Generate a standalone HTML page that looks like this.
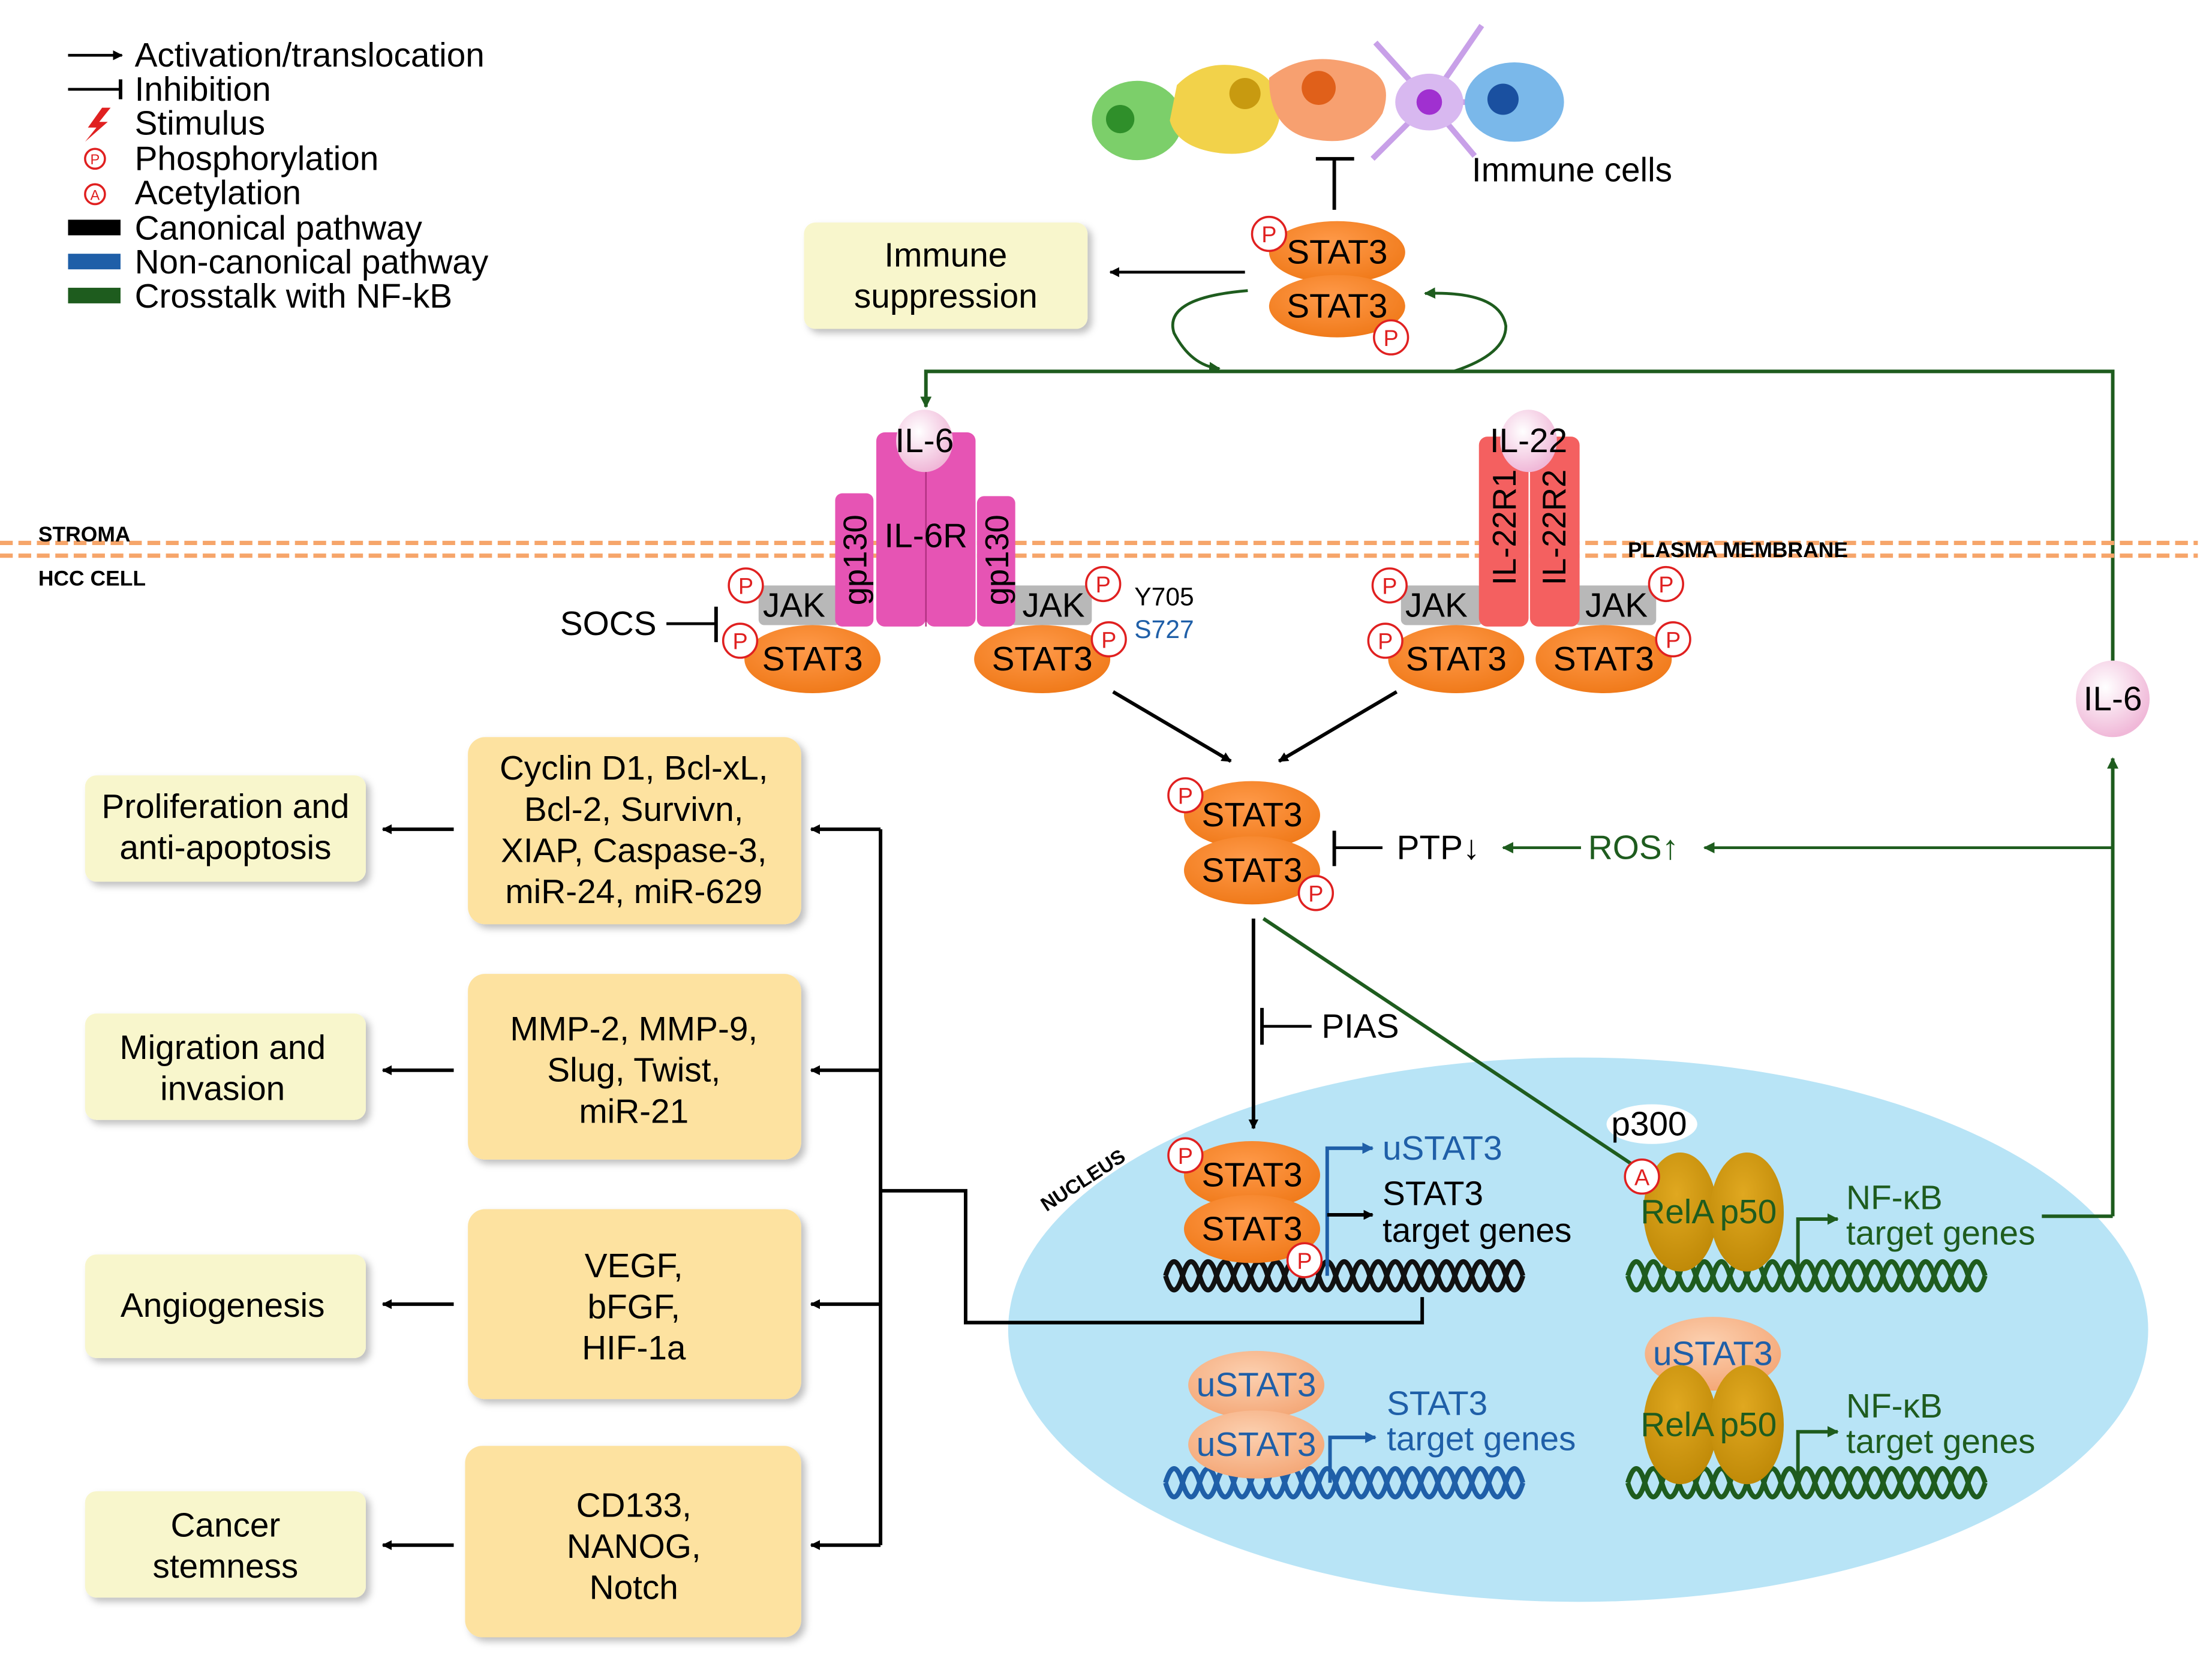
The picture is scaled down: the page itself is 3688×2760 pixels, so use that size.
<!DOCTYPE html>
<html><head><meta charset="utf-8"><style>
html,body{margin:0;padding:0;background:#fff;}
svg{display:block;}
text{font-family:"Liberation Sans",Arial,sans-serif;}
</style></head><body>
<svg width="3688" height="2760" viewBox="0 0 1560 1167.5" preserveAspectRatio="none" xmlns="http://www.w3.org/2000/svg">
<defs>
<marker id="ab" viewBox="0 0 10 10" refX="9" refY="5" markerWidth="7" markerHeight="7" orient="auto-start-reverse" markerUnits="userSpaceOnUse"><path d="M0,0L10,5L0,10z" fill="#000"/></marker>
<marker id="ag" viewBox="0 0 10 10" refX="9" refY="5" markerWidth="8" markerHeight="8" orient="auto-start-reverse" markerUnits="userSpaceOnUse"><path d="M0,0L10,5L0,10z" fill="#1e5c1e"/></marker>
<marker id="abl" viewBox="0 0 10 10" refX="9" refY="5" markerWidth="8" markerHeight="8" orient="auto" markerUnits="userSpaceOnUse"><path d="M0,0L10,5L0,10z" fill="#1f5fa8"/></marker>
<radialGradient id="og" cx="45%" cy="35%" r="65%"><stop offset="0" stop-color="#ff9a4a"/><stop offset="1" stop-color="#f07a1a"/></radialGradient>
<radialGradient id="ug" cx="45%" cy="35%" r="65%"><stop offset="0" stop-color="#fcd0b0"/><stop offset="1" stop-color="#f4a878"/></radialGradient>
<radialGradient id="gg" cx="45%" cy="35%" r="65%"><stop offset="0" stop-color="#e0a820"/><stop offset="1" stop-color="#c08a08"/></radialGradient>
<radialGradient id="pk" cx="40%" cy="35%" r="65%"><stop offset="0" stop-color="#fff"/><stop offset="1" stop-color="#f0b8d8"/></radialGradient>
<filter id="sh" x="-10%" y="-10%" width="130%" height="130%"><feDropShadow dx="3" dy="3" stdDeviation="2.5" flood-color="#000" flood-opacity="0.25"/></filter>
</defs>

<!-- Legend -->
<g font-size="24" fill="#000">
<line x1="48" y1="39" x2="86" y2="39" stroke="#000" stroke-width="2" marker-end="url(#ab)"/>
<text x="95" y="47">Activation/translocation</text>
<line x1="48" y1="63" x2="84" y2="63" stroke="#000" stroke-width="2"/><line x1="85" y1="56" x2="85" y2="70" stroke="#000" stroke-width="2.5"/>
<text x="95" y="71">Inhibition</text>
<path d="M72,76 L62,90 L68,90 L60,100 L76,86 L70,86 L78,76z" fill="#e02020"/>
<text x="95" y="95">Stimulus</text>
<circle cx="67" cy="112" r="7" fill="#fff" stroke="#e02020" stroke-width="1.5"/><text x="67" y="116" font-size="10" fill="#e02020" text-anchor="middle">P</text>
<text x="95" y="120">Phosphorylation</text>
<circle cx="67" cy="137" r="7" fill="#fff" stroke="#e02020" stroke-width="1.5"/><text x="67" y="141" font-size="10" fill="#e02020" text-anchor="middle">A</text>
<text x="95" y="144">Acetylation</text>
<rect x="48" y="155" width="37" height="11" fill="#000"/><text x="95" y="169">Canonical pathway</text>
<rect x="48" y="179" width="37" height="11" fill="#1f5fa8"/><text x="95" y="193">Non-canonical pathway</text>
<rect x="48" y="203" width="37" height="11" fill="#1e5c1e"/><text x="95" y="217">Crosstalk with NF-kB</text>
</g>

<!-- Immune cells -->
<ellipse cx="802" cy="85" rx="32" ry="28" fill="#7ccf6a"/><circle cx="790" cy="84" r="10" fill="#2f8f2a"/>
<path d="M830,60 Q850,40 880,48 Q905,55 902,85 Q895,112 860,108 Q830,104 825,85z" fill="#f2d24a"/><circle cx="878" cy="66" r="11" fill="#c89a10"/>
<path d="M895,55 Q920,35 955,45 Q985,52 975,80 Q960,105 925,98 Q895,92 895,55z" fill="#f7a070"/><circle cx="930" cy="62" r="12" fill="#e0601a"/>
<g stroke="#c8a0e8" stroke-width="4"><line x1="1008" y1="72" x2="1045" y2="18"/><line x1="1008" y1="72" x2="970" y2="30"/><line x1="1008" y1="72" x2="1040" y2="110"/><line x1="1008" y1="72" x2="968" y2="112"/><line x1="1008" y1="72" x2="1035" y2="72"/></g>
<ellipse cx="1008" cy="72" rx="24" ry="20" fill="#d8b8f0"/><circle cx="1008" cy="72" r="9" fill="#a030d0"/>
<ellipse cx="1068" cy="72" rx="35" ry="28" fill="#7ab8ea"/><circle cx="1060" cy="70" r="11" fill="#1a50a0"/>
<text x="1038" y="128" font-size="24">Immune cells</text>
<line x1="941" y1="148" x2="941" y2="112" stroke="#000" stroke-width="2.5"/><line x1="928" y1="112" x2="955" y2="112" stroke="#000" stroke-width="2.5"/>

<!-- Immune suppression -->
<rect x="567" y="157" width="200" height="75" rx="8" fill="#f8f6cc" filter="url(#sh)"/>
<text x="667" y="188" font-size="24" text-anchor="middle">Immune</text><text x="667" y="217" font-size="24" text-anchor="middle">suppression</text>
<line x1="878" y1="192" x2="783" y2="192" stroke="#000" stroke-width="2" marker-end="url(#ab)"/>

<!-- green loops & lines -->
<path d="M880,205 Q820,210 828,235 Q840,258 860,260" fill="none" stroke="#1e5c1e" stroke-width="2" marker-end="url(#ag)"/>
<path d="M1025,262 Q1062,250 1062,230 Q1058,205 1005,207" fill="none" stroke="#1e5c1e" stroke-width="2" marker-end="url(#ag)"/>
<polyline points="1490,490 1490,262 653,262 653,287" fill="none" stroke="#1e5c1e" stroke-width="2.5" marker-end="url(#ag)"/>

<!-- top dimer -->
<ellipse cx="943" cy="178" rx="48" ry="22" fill="url(#og)"/><ellipse cx="943" cy="216" rx="48" ry="22" fill="url(#og)"/>
<text x="943" y="186" font-size="24" text-anchor="middle">STAT3</text><text x="943" y="224" font-size="24" text-anchor="middle">STAT3</text>
<g font-size="16" fill="#e02020" text-anchor="middle">
<circle cx="895" cy="165" r="12" fill="#fff" stroke="#e02020" stroke-width="1.5"/><text x="895" y="171">P</text>
<circle cx="981" cy="238" r="12" fill="#fff" stroke="#e02020" stroke-width="1.5"/><text x="981" y="244">P</text>
</g>

<!-- Membrane -->
<line x1="0" y1="383" x2="1550" y2="383" stroke="#f6a56a" stroke-width="3" stroke-dasharray="9,4"/>
<line x1="0" y1="392" x2="1550" y2="392" stroke="#f6a56a" stroke-width="3" stroke-dasharray="9,4"/>
<text x="27" y="382" font-size="15" font-weight="bold">STROMA</text>
<text x="27" y="413" font-size="15" font-weight="bold">HCC CELL</text>
<text x="1148" y="393" font-size="15" font-weight="bold">PLASMA MEMBRANE</text>

<!-- IL-6 receptor complex -->
<rect x="535" y="413" width="58" height="28" rx="4" fill="#b8b8b8"/><rect x="712" y="413" width="58" height="28" rx="4" fill="#b8b8b8"/>
<text x="560" y="435" font-size="24" text-anchor="middle">JAK</text><text x="743" y="435" font-size="24" text-anchor="middle">JAK</text>
<rect x="589" y="348" width="27" height="94" rx="5" fill="#e654b4"/>
<rect x="689" y="350" width="27" height="92" rx="5" fill="#e654b4"/>
<rect x="618" y="305" width="35" height="137" rx="6" fill="#e654b4"/>
<rect x="653" y="305" width="35" height="137" rx="6" fill="#e654b4"/>
<line x1="653" y1="330" x2="653" y2="442" stroke="#b03080" stroke-width="1"/>
<text transform="translate(611,395) rotate(-90)" font-size="23" text-anchor="middle">gp130</text>
<text transform="translate(711,395) rotate(-90)" font-size="23" text-anchor="middle">gp130</text>
<text x="653" y="386" font-size="24" text-anchor="middle">IL-6R</text>
<ellipse cx="652" cy="311" rx="20" ry="22" fill="url(#pk)"/><text x="652" y="319" font-size="24" text-anchor="middle">IL-6</text>
<ellipse cx="573" cy="465" rx="48" ry="24" fill="url(#og)"/><ellipse cx="735" cy="465" rx="48" ry="24" fill="url(#og)"/>
<text x="573" y="473" font-size="24" text-anchor="middle">STAT3</text><text x="735" y="473" font-size="24" text-anchor="middle">STAT3</text>
<text x="800" y="427" font-size="18">Y705</text><text x="800" y="450" font-size="18" fill="#1f5fa8">S727</text>
<text x="395" y="448" font-size="24">SOCS</text>
<line x1="470" y1="440" x2="504" y2="440" stroke="#000" stroke-width="2"/><line x1="505" y1="428" x2="505" y2="453" stroke="#000" stroke-width="2.5"/>

<!-- IL-22 complex -->
<rect x="988" y="413" width="58" height="28" rx="4" fill="#b8b8b8"/><rect x="1110" y="413" width="58" height="28" rx="4" fill="#b8b8b8"/>
<text x="1013" y="435" font-size="24" text-anchor="middle">JAK</text><text x="1140" y="435" font-size="24" text-anchor="middle">JAK</text>
<rect x="1043" y="308" width="35" height="134" rx="6" fill="#f46060"/><rect x="1079" y="308" width="35" height="134" rx="6" fill="#f46060"/>
<text transform="translate(1069,372) rotate(-90)" font-size="23" text-anchor="middle">IL-22R1</text>
<text transform="translate(1104,372) rotate(-90)" font-size="23" text-anchor="middle">IL-22R2</text>
<ellipse cx="1078" cy="311" rx="20" ry="22" fill="url(#pk)"/><text x="1078" y="319" font-size="24" text-anchor="middle">IL-22</text>
<ellipse cx="1027" cy="465" rx="48" ry="24" fill="url(#og)"/><ellipse cx="1131" cy="465" rx="48" ry="24" fill="url(#og)"/>
<text x="1027" y="473" font-size="24" text-anchor="middle">STAT3</text><text x="1131" y="473" font-size="24" text-anchor="middle">STAT3</text>

<g font-size="16" fill="#e02020" text-anchor="middle" stroke-width="1.5">
<circle cx="526" cy="413" r="12" fill="#fff" stroke="#e02020"/><text x="526" y="419">P</text>
<circle cx="522" cy="452" r="12" fill="#fff" stroke="#e02020"/><text x="522" y="458">P</text>
<circle cx="778" cy="412" r="12" fill="#fff" stroke="#e02020"/><text x="778" y="418">P</text>
<circle cx="782" cy="451" r="12" fill="#fff" stroke="#e02020"/><text x="782" y="457">P</text>
<circle cx="980" cy="413" r="12" fill="#fff" stroke="#e02020"/><text x="980" y="419">P</text>
<circle cx="977" cy="452" r="12" fill="#fff" stroke="#e02020"/><text x="977" y="458">P</text>
<circle cx="1175" cy="412" r="12" fill="#fff" stroke="#e02020"/><text x="1175" y="418">P</text>
<circle cx="1180" cy="451" r="12" fill="#fff" stroke="#e02020"/><text x="1180" y="457">P</text>
</g>

<line x1="785" y1="488" x2="868" y2="537" stroke="#000" stroke-width="2.5" marker-end="url(#ab)"/>
<line x1="985" y1="488" x2="902" y2="537" stroke="#000" stroke-width="2.5" marker-end="url(#ab)"/>

<!-- IL-6 right -->
<line x1="1490" y1="858" x2="1490" y2="535" stroke="#1e5c1e" stroke-width="2.5" marker-end="url(#ag)"/>
<ellipse cx="1490" cy="493" rx="26" ry="27" fill="url(#pk)"/><text x="1490" y="501" font-size="24" text-anchor="middle">IL-6</text>

<!-- middle dimer -->
<ellipse cx="883" cy="575" rx="48" ry="24" fill="url(#og)"/><ellipse cx="883" cy="614" rx="48" ry="24" fill="url(#og)"/>
<text x="883" y="583" font-size="24" text-anchor="middle">STAT3</text><text x="883" y="622" font-size="24" text-anchor="middle">STAT3</text>
<g font-size="16" fill="#e02020" text-anchor="middle">
<circle cx="836" cy="561" r="12" fill="#fff" stroke="#e02020" stroke-width="1.5"/><text x="836" y="567">P</text>
<circle cx="928" cy="630" r="12" fill="#fff" stroke="#e02020" stroke-width="1.5"/><text x="928" y="636">P</text>
</g>
<line x1="941" y1="586" x2="941" y2="611" stroke="#000" stroke-width="2.5"/><line x1="941" y1="598" x2="975" y2="598" stroke="#000" stroke-width="2"/>
<text x="985" y="606" font-size="24">PTP↓</text>
<line x1="1115" y1="598" x2="1060" y2="598" stroke="#1e5c1e" stroke-width="2" marker-end="url(#ag)"/>
<text x="1120" y="606" font-size="24" fill="#1e5c1e">ROS↑</text>
<line x1="1490" y1="598" x2="1202" y2="598" stroke="#1e5c1e" stroke-width="2" marker-end="url(#ag)"/>

<!-- Nucleus -->
<ellipse cx="1113" cy="938" rx="402" ry="192" fill="#b8e4f6"/>
<text transform="translate(738,855) rotate(-33)" font-size="14" font-weight="bold">NUCLEUS</text>

<line x1="884" y1="648" x2="884" y2="796" stroke="#000" stroke-width="2.5" marker-end="url(#ab)"/>
<line x1="890" y1="711" x2="890" y2="737" stroke="#000" stroke-width="2.5"/><line x1="890" y1="724" x2="925" y2="724" stroke="#000" stroke-width="2"/>
<text x="932" y="732" font-size="24">PIAS</text>
<line x1="891" y1="648" x2="1158" y2="826" stroke="#1e5c1e" stroke-width="2.5" marker-end="url(#ag)"/>

<!-- left output line -->
<polyline points="1003,915 1003,933 681,933 681,840 621,840" fill="none" stroke="#000" stroke-width="2.5"/>
<line x1="621" y1="585" x2="621" y2="1090" stroke="#000" stroke-width="2.5"/>
<g stroke="#000" stroke-width="2.5">
<line x1="621" y1="585" x2="572" y2="585" marker-end="url(#ab)"/>
<line x1="621" y1="755" x2="572" y2="755" marker-end="url(#ab)"/>
<line x1="621" y1="920" x2="572" y2="920" marker-end="url(#ab)"/>
<line x1="621" y1="1090" x2="572" y2="1090" marker-end="url(#ab)"/>
<line x1="320" y1="585" x2="270" y2="585" marker-end="url(#ab)"/>
<line x1="320" y1="755" x2="270" y2="755" marker-end="url(#ab)"/>
<line x1="320" y1="920" x2="270" y2="920" marker-end="url(#ab)"/>
<line x1="320" y1="1090" x2="270" y2="1090" marker-end="url(#ab)"/>
</g>

<!-- DNA -->
<g fill="none" stroke-width="3.5">
<g stroke="#111">
<path d="M822,900 q6,-20 12,0 t12,0 t12,0 t12,0 t12,0 t12,0 t12,0 t12,0 t12,0 t12,0 t12,0 t12,0 t12,0 t12,0 t12,0 t12,0 t12,0 t12,0 t12,0 t12,0 t12,0"/>
<path d="M822,900 q6,20 12,0 t12,0 t12,0 t12,0 t12,0 t12,0 t12,0 t12,0 t12,0 t12,0 t12,0 t12,0 t12,0 t12,0 t12,0 t12,0 t12,0 t12,0 t12,0 t12,0 t12,0"/>
</g>
<g stroke="#1f5fa8">
<path d="M822,1046 q6,-20 12,0 t12,0 t12,0 t12,0 t12,0 t12,0 t12,0 t12,0 t12,0 t12,0 t12,0 t12,0 t12,0 t12,0 t12,0 t12,0 t12,0 t12,0 t12,0 t12,0 t12,0"/>
<path d="M822,1046 q6,20 12,0 t12,0 t12,0 t12,0 t12,0 t12,0 t12,0 t12,0 t12,0 t12,0 t12,0 t12,0 t12,0 t12,0 t12,0 t12,0 t12,0 t12,0 t12,0 t12,0 t12,0"/>
</g>
<g stroke="#1e5c1e">
<path d="M1148,900 q6,-20 12,0 t12,0 t12,0 t12,0 t12,0 t12,0 t12,0 t12,0 t12,0 t12,0 t12,0 t12,0 t12,0 t12,0 t12,0 t12,0 t12,0 t12,0 t12,0 t12,0 t12,0"/>
<path d="M1148,900 q6,20 12,0 t12,0 t12,0 t12,0 t12,0 t12,0 t12,0 t12,0 t12,0 t12,0 t12,0 t12,0 t12,0 t12,0 t12,0 t12,0 t12,0 t12,0 t12,0 t12,0 t12,0"/>
<path d="M1148,1046 q6,-20 12,0 t12,0 t12,0 t12,0 t12,0 t12,0 t12,0 t12,0 t12,0 t12,0 t12,0 t12,0 t12,0 t12,0 t12,0 t12,0 t12,0 t12,0 t12,0 t12,0 t12,0"/>
<path d="M1148,1046 q6,20 12,0 t12,0 t12,0 t12,0 t12,0 t12,0 t12,0 t12,0 t12,0 t12,0 t12,0 t12,0 t12,0 t12,0 t12,0 t12,0 t12,0 t12,0 t12,0 t12,0 t12,0"/>
</g>
</g>

<!-- nucleus STAT3 -->
<ellipse cx="883" cy="829" rx="48" ry="24" fill="url(#og)"/><ellipse cx="883" cy="867" rx="48" ry="24" fill="url(#og)"/>
<text x="883" y="837" font-size="24" text-anchor="middle">STAT3</text><text x="883" y="875" font-size="24" text-anchor="middle">STAT3</text>
<polyline points="936,900 936,810 968,810" fill="none" stroke="#1f5fa8" stroke-width="2.5" marker-end="url(#abl)"/>
<line x1="936" y1="857" x2="968" y2="857" stroke="#000" stroke-width="2.5" marker-end="url(#ab)"/>
<text x="975" y="818" font-size="24" fill="#1f5fa8">uSTAT3</text>
<text x="975" y="850" font-size="24">STAT3</text><text x="975" y="876" font-size="24">target genes</text>
<g font-size="16" fill="#e02020" text-anchor="middle">
<circle cx="836" cy="815" r="12" fill="#fff" stroke="#e02020" stroke-width="1.5"/><text x="836" y="821">P</text>
<circle cx="920" cy="889" r="12" fill="#fff" stroke="#e02020" stroke-width="1.5"/><text x="920" y="895">P</text>
</g>

<!-- NF-kB top -->
<ellipse cx="1165" cy="793" rx="32" ry="14" fill="#fff"/><text x="1163" y="801" font-size="24" text-anchor="middle">p300</text>
<ellipse cx="1185" cy="855" rx="26" ry="42" fill="url(#gg)"/><ellipse cx="1232" cy="855" rx="26" ry="42" fill="url(#gg)"/>
<text x="1183" y="863" font-size="24" fill="#1e5c1e" text-anchor="middle">RelA</text><text x="1233" y="863" font-size="24" fill="#1e5c1e" text-anchor="middle">p50</text>
<circle cx="1158" cy="830" r="12" fill="#fff" stroke="#e02020" stroke-width="1.5"/><text x="1158" y="836" font-size="16" fill="#e02020" text-anchor="middle">A</text>
<polyline points="1268,900 1268,860 1296,860" fill="none" stroke="#1e5c1e" stroke-width="2.5" marker-end="url(#ag)"/>
<text x="1302" y="853" font-size="24" fill="#1e5c1e">NF-κB</text><text x="1302" y="878" font-size="24" fill="#1e5c1e">target genes</text>
<line x1="1440" y1="858" x2="1490" y2="858" stroke="#1e5c1e" stroke-width="2.5"/>

<!-- bottom uSTAT3 -->
<ellipse cx="886" cy="977" rx="48" ry="24" fill="url(#ug)"/><ellipse cx="886" cy="1019" rx="48" ry="24" fill="url(#ug)"/>
<text x="886" y="985" font-size="24" fill="#1f5fa8" text-anchor="middle">uSTAT3</text><text x="886" y="1027" font-size="24" fill="#1f5fa8" text-anchor="middle">uSTAT3</text>
<polyline points="938,1046 938,1014 970,1014" fill="none" stroke="#1f5fa8" stroke-width="2.5" marker-end="url(#abl)"/>
<text x="978" y="998" font-size="24" fill="#1f5fa8">STAT3</text><text x="978" y="1023" font-size="24" fill="#1f5fa8">target genes</text>

<ellipse cx="1208" cy="955" rx="48" ry="26" fill="url(#ug)"/>
<text x="1208" y="963" font-size="24" fill="#1f5fa8" text-anchor="middle">uSTAT3</text>
<ellipse cx="1185" cy="1005" rx="26" ry="42" fill="url(#gg)"/><ellipse cx="1232" cy="1005" rx="26" ry="42" fill="url(#gg)"/>
<text x="1183" y="1013" font-size="24" fill="#1e5c1e" text-anchor="middle">RelA</text><text x="1233" y="1013" font-size="24" fill="#1e5c1e" text-anchor="middle">p50</text>
<polyline points="1268,1046 1268,1010 1296,1010" fill="none" stroke="#1e5c1e" stroke-width="2.5" marker-end="url(#ag)"/>
<text x="1302" y="1000" font-size="24" fill="#1e5c1e">NF-κB</text><text x="1302" y="1025" font-size="24" fill="#1e5c1e">target genes</text>

<!-- Left boxes -->
<g font-size="24" text-anchor="middle">
<rect x="330" y="520" width="235" height="132" rx="12" fill="#fde2a0" filter="url(#sh)"/>
<text x="447" y="550">Cyclin D1, Bcl-xL,</text><text x="447" y="579">Bcl-2, Survivn,</text><text x="447" y="608">XIAP, Caspase-3,</text><text x="447" y="637">miR-24, miR-629</text>
<rect x="330" y="687" width="235" height="131" rx="12" fill="#fde2a0" filter="url(#sh)"/>
<text x="447" y="734">MMP-2, MMP-9,</text><text x="447" y="763">Slug, Twist,</text><text x="447" y="792">miR-21</text>
<rect x="330" y="853" width="235" height="134" rx="12" fill="#fde2a0" filter="url(#sh)"/>
<text x="447" y="901">VEGF,</text><text x="447" y="930">bFGF,</text><text x="447" y="959">HIF-1a</text>
<rect x="328" y="1020" width="237" height="135" rx="12" fill="#fde2a0" filter="url(#sh)"/>
<text x="447" y="1070">CD133,</text><text x="447" y="1099">NANOG,</text><text x="447" y="1128">Notch</text>

<rect x="60" y="547" width="198" height="75" rx="8" fill="#f8f6cc" filter="url(#sh)"/>
<text x="159" y="577">Proliferation and</text><text x="159" y="606">anti-apoptosis</text>
<rect x="60" y="715" width="198" height="75" rx="8" fill="#f8f6cc" filter="url(#sh)"/>
<text x="157" y="747">Migration and</text><text x="157" y="776">invasion</text>
<rect x="60" y="885" width="198" height="73" rx="8" fill="#f8f6cc" filter="url(#sh)"/>
<text x="157" y="929">Angiogenesis</text>
<rect x="60" y="1052" width="198" height="75" rx="8" fill="#f8f6cc" filter="url(#sh)"/>
<text x="159" y="1084">Cancer</text><text x="159" y="1113">stemness</text>
</g>
</svg>
</body></html>
